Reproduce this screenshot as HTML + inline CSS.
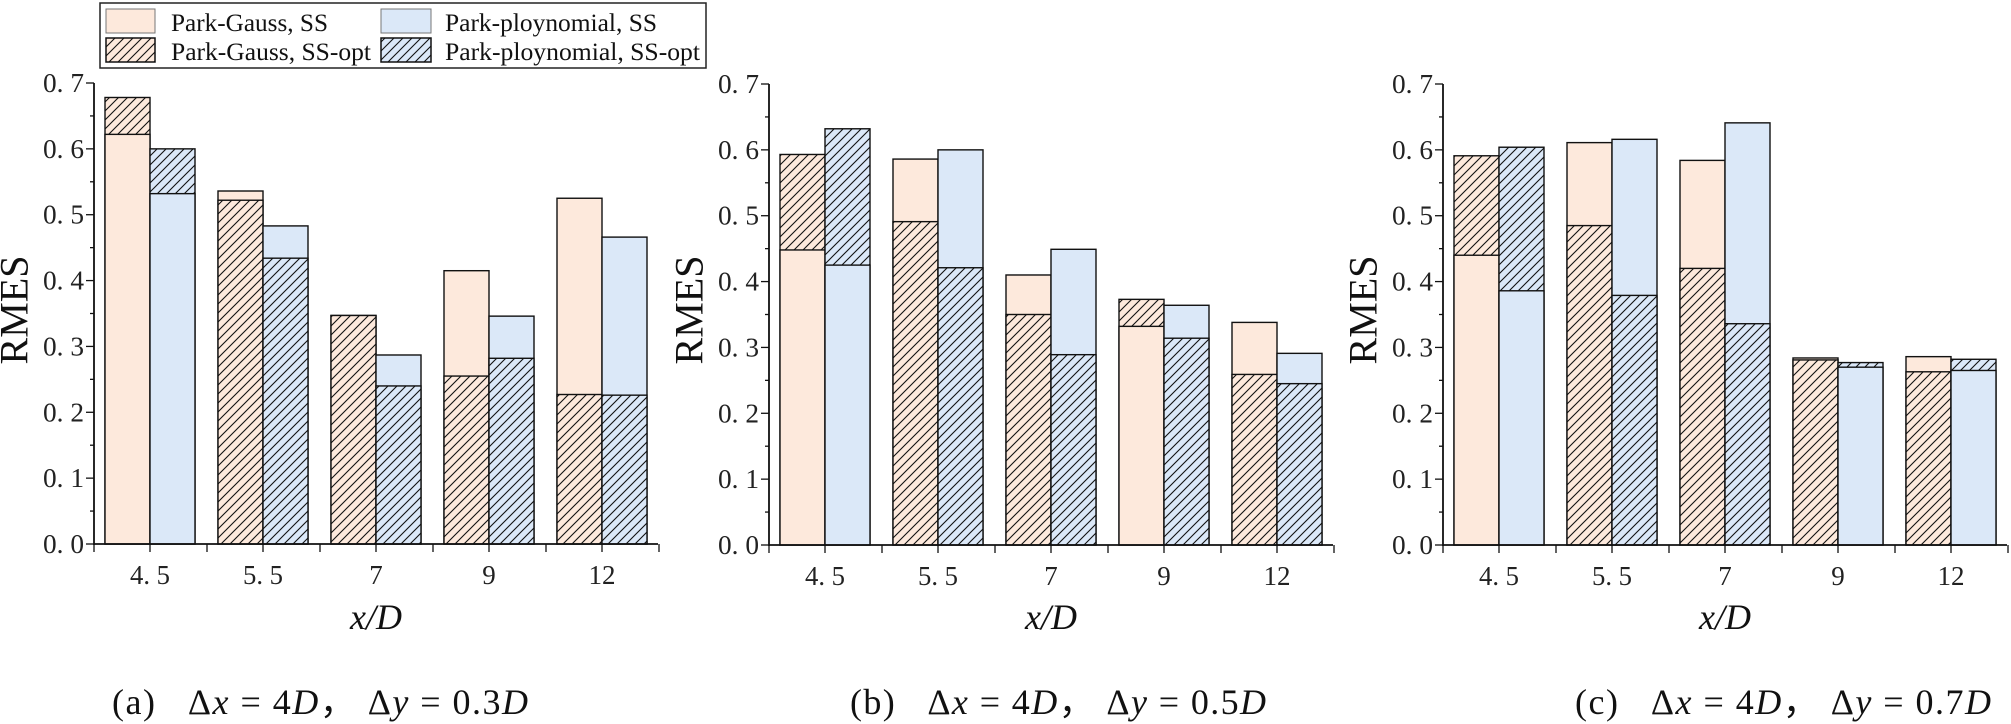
<!DOCTYPE html>
<html><head><meta charset="utf-8"><style>
html,body{margin:0;padding:0;background:#fff;}
svg{display:block}
</style></head><body>
<svg id="s" width="2011" height="724" xmlns="http://www.w3.org/2000/svg">
<defs>
<pattern id="ho" patternUnits="userSpaceOnUse" width="9" height="9">
<rect width="9" height="9" fill="#fde9dc"/>
<path d="M-2,11 L11,-2 M-2,2 L2,-2 M7,11 L11,7" stroke="#111" stroke-width="1.1"/>
</pattern>
<pattern id="hb" patternUnits="userSpaceOnUse" width="9" height="9">
<rect width="9" height="9" fill="#dbe8f8"/>
<path d="M-2,11 L11,-2 M-2,2 L2,-2 M7,11 L11,7" stroke="#111" stroke-width="1.1"/>
</pattern>
</defs>
<g id="g"></g>
<rect x="100" y="3" width="606" height="65" fill="#fff" stroke="#222" stroke-width="1.5"/>
<rect x="106" y="9" width="49" height="24" fill="#fde9dc" stroke="#777" stroke-width="1"/>
<rect x="106" y="38" width="49" height="24" fill="url(#ho)" stroke="#111" stroke-width="1.5"/>
<rect x="381" y="9" width="50" height="24" fill="#dbe8f8" stroke="#777" stroke-width="1"/>
<rect x="381" y="38" width="50" height="24" fill="url(#hb)" stroke="#111" stroke-width="1.5"/>
<g font-family="Liberation Serif, serif" font-size="25" fill="#111">
<text x="171" y="31" textLength="157" lengthAdjust="spacingAndGlyphs">Park-Gauss, SS</text>
<text x="171" y="60" textLength="200" lengthAdjust="spacingAndGlyphs">Park-Gauss, SS-opt</text>
<text x="445" y="31" textLength="212" lengthAdjust="spacingAndGlyphs">Park-ploynomial, SS</text>
<text x="445" y="60" textLength="255" lengthAdjust="spacingAndGlyphs">Park-ploynomial, SS-opt</text>
</g>
</svg>
<script>
var NS="http://www.w3.org/2000/svg",g=document.getElementById("g");
function el(t,a,txt){var e=document.createElementNS(NS,t);for(var k in a)e.setAttribute(k,a[k]);if(txt!=null)e.textContent=txt;g.appendChild(e);return e;}
var panels=[
 {ax:94,y0:544,cap:"(a)",dy:"0.3",capx:112,
  d:[[.622,.678,.532,.600],[.536,.522,.483,.434],[.347,.347,.287,.240],[.415,.255,.346,.282],[.525,.227,.466,.226]]},
 {ax:769,y0:545,cap:"(b)",dy:"0.5",capx:850,
  d:[[.448,.593,.425,.632],[.586,.491,.600,.421],[.410,.350,.449,.289],[.332,.373,.364,.314],[.338,.259,.291,.245]]},
 {ax:1443,y0:545,cap:"(c)",dy:"0.7",capx:1575,
  d:[[.440,.591,.386,.604],[.611,.485,.616,.379],[.584,.420,.641,.336],[.284,.281,.270,.277],[.286,.263,.265,.282]]}
];
var labs=["4. 5","5. 5","7","9","12"];
panels.forEach(function(p){
 var S=461/0.7,ax=p.ax,y0=p.y0,end=ax+564;
 function Y(v){return y0-v*S;}
 p.d.forEach(function(r,i){
  var c=ax+56+113*i;
  [[r[0],r[1],c-45,"#fde9dc","url(#ho)"],[r[2],r[3],c,"#dbe8f8","url(#hb)"]].forEach(function(b){
   var bars=[[b[0],b[3]],[b[1],b[4]]].sort(function(a,bb){return bb[0]-a[0];});
   bars.forEach(function(bb){el("rect",{x:b[2],y:Y(bb[0]),width:45,height:bb[0]*S,fill:bb[1],stroke:"#111","stroke-width":1.4});});
  });
  var tl=labs[i].length>2?{textLength:40,lengthAdjust:"spacingAndGlyphs"}:{};
  var a={x:c,y:y0+40,"text-anchor":"middle","font-family":"Liberation Serif, serif","font-size":27,fill:"#222"};
  for(var k in tl)a[k]=tl[k];
  el("text",a,labs[i]);
 });
 el("line",{x1:ax,y1:y0,x2:end,y2:y0,stroke:"#111","stroke-width":1.8});
 el("line",{x1:ax,y1:y0+1,x2:ax,y2:Y(0.7),stroke:"#111","stroke-width":1.8});
 for(var k=0;k<=5;k++){var x=ax+113*k;el("line",{x1:x,y1:y0,x2:x,y2:y0+8,stroke:"#111","stroke-width":1.3});}
 for(var k=0;k<5;k++){var x=ax+56+113*k;el("line",{x1:x,y1:y0,x2:x,y2:y0+8,stroke:"#111","stroke-width":1.3});}
 for(var j=0;j<=14;j++){var y=Y(j*0.05),L=(j%2==0)?8:4;el("line",{x1:ax-L,y1:y,x2:ax,y2:y,stroke:"#111","stroke-width":1.3});
  if(j%2==0)el("text",{x:ax-51,y:y+9,"font-family":"Liberation Serif, serif","font-size":27,fill:"#222",textLength:41,lengthAdjust:"spacingAndGlyphs"},"0. "+(j/2));}
 var ry=310,rx=ax-80;
 el("text",{x:rx,y:ry,transform:"rotate(-90 "+rx+" "+ry+")","text-anchor":"middle","dominant-baseline":"central","font-family":"Liberation Serif, serif","font-size":40,fill:"#111"},"RMES");
 el("text",{x:ax+282,y:629,"text-anchor":"middle","font-family":"Liberation Serif, serif","font-size":36,"font-style":"italic",fill:"#111"},"x/D");
 var t=el("text",{x:p.capx,y:714,"font-family":"Liberation Serif, serif","font-size":36,fill:"#111",textLength:416,lengthAdjust:"spacing"});
 t.innerHTML=p.cap+'\u00a0\u00a0 Δ<tspan font-style="italic">x</tspan> = 4<tspan font-style="italic">D</tspan>，\u00a0Δ<tspan font-style="italic">y</tspan> = '+p.dy+'<tspan font-style="italic">D</tspan>';
});
</script>
</body></html>
